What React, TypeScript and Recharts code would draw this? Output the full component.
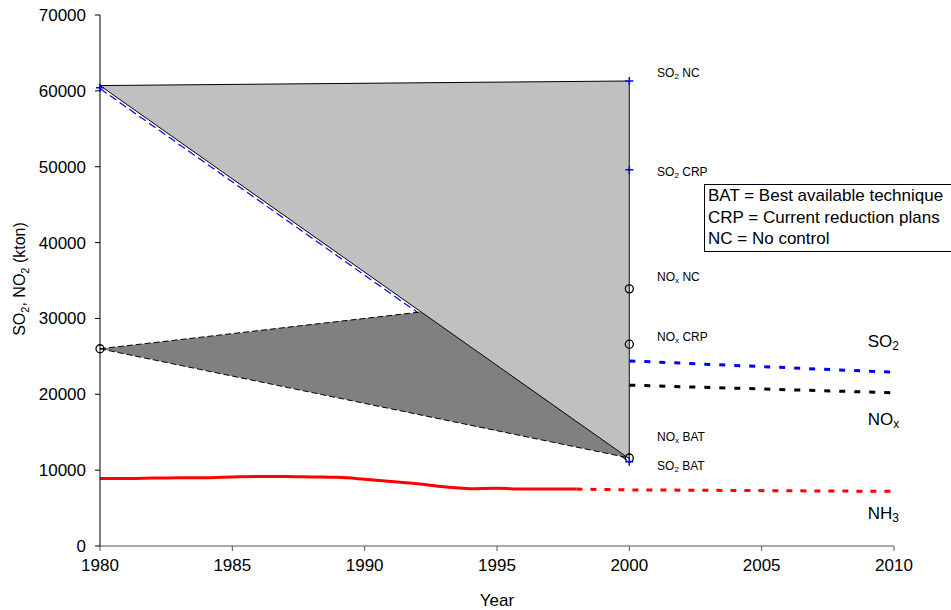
import { Area, ComposedChart, Line, Scatter, XAxis, YAxis } from "recharts"

// NH3 emissions, solid (history) and projection
const nh3Years = [1980, 1981, 1982, 1983, 1984, 1985, 1986, 1987, 1988, 1989, 1990, 1991, 1992, 1993, 1994, 1995, 1996, 1997, 1998]
const nh3Kton = [8900, 8900, 8950, 9000, 9000, 9100, 9150, 9150, 9100, 9050, 8800, 8500, 8200, 7800, 7550, 7600, 7500, 7500, 7500]
const nh3ProjYears = [1998, 2000, 2010]
const nh3ProjKton = [7500, 7400, 7200]

// dotted projections after 2000
const so2ProjYears = [2000, 2010]
const so2ProjKton = [24400, 22900]
const noxProjYears = [2000, 2010]
const noxProjKton = [21200, 20200]

// SO2 path (blue dashed)
const so2HistYears = [1980, 2000]
const so2HistKton = [60300, 11100]

// scenario envelopes
const so2RangeYears = [1980, 2000]
const so2RangeLow = [60700, 11500]
const so2RangeHigh = [60700, 61300]
const noxRangeYears = [1980, 2000]
const noxRangeLow = [26000, 11600]
const noxRangeHigh = [26000, 34000]

// markers
const so2MarkYears = [1980, 2000, 2000, 2000]
const so2MarkKton = [60400, 61300, 49600, 11100]
const noxMarkYears = [1980, 2000, 2000, 2000]
const noxMarkKton = [26000, 33900, 26600, 11600]

// scenario labels
const scenarioGas = ["SO", "SO", "NO", "NO", "NO", "SO"]
const scenarioSub = ["2", "2", "x", "x", "x", "2"]
const scenarioName = ["NC", "CRP", "NC", "CRP", "BAT", "BAT"]
const scenarioLabelYear = 2001.05
const scenarioLabelKton = [62350, 49300, 35460, 27550, 14370, 10550]

// gas labels
const gasName = ["SO", "NO", "NH"]
const gasSub = ["2", "x", "3"]
const gasLabelYear = 2009.6
const gasLabelKton = [27000, 16700, 4300]

const xTicks = [1980, 1985, 1990, 1995, 2000, 2005, 2010]
const yTicks = [0, 10000, 20000, 30000, 40000, 50000, 60000, 70000]

const FONT = "'Liberation Sans', Arial, sans-serif"

const pts = (xs: number[], ys: number[]) => xs.map((year, i) => ({ year, value: ys[i] }))
const range = (xs: number[], lo: number[], hi: number[]) => xs.map((year, i) => ({ year, value: [lo[i], hi[i]] }))

const scenarioData = scenarioName.map((name, i) => ({
  year: scenarioLabelYear,
  value: scenarioLabelKton[i],
  gas: scenarioGas[i],
  sub: scenarioSub[i],
  name,
}))
const gasData = gasName.map((gas, i) => ({ year: gasLabelYear, value: gasLabelKton[i], gas, sub: gasSub[i] }))

const Plus = (p: any) => (
  <path d={`M${p.cx - 4},${p.cy}H${p.cx + 4}M${p.cx},${p.cy - 4}V${p.cy + 4}`} stroke="#0000ff" strokeWidth={1.5} fill="none" />
)
const Ring = (p: any) => <circle cx={p.cx} cy={p.cy} r={4} stroke="#000" strokeWidth={1.3} fill="none" />

const ScenarioText = (p: any) => (
  <text x={p.cx} y={p.cy} fontFamily={FONT} fontSize={12} fill="#000" dominantBaseline="central">
    {p.payload.gas}
    <tspan fontSize={8} dy={3}>{p.payload.sub}</tspan>
    <tspan dy={-3}> {p.payload.name}</tspan>
  </text>
)
const GasText = (p: any) => (
  <text x={p.cx} y={p.cy} fontFamily={FONT} fontSize={17} fill="#000" textAnchor="middle" dominantBaseline="central">
    {p.payload.gas}
    <tspan fontSize={12} dy={5}>{p.payload.sub}</tspan>
  </text>
)

const YLabel = () => (
  <text x={0} y={0} transform="translate(25,279) rotate(-90)" textAnchor="middle" fontFamily={FONT} fontSize={16} fill="#000">
    SO<tspan fontSize={11} dy={4}>2</tspan>
    <tspan dy={-4}>, NO</tspan>
    <tspan fontSize={11} dy={4}>2</tspan>
    <tspan dy={-4}> (kton)</tspan>
  </text>
)

export default function App() {
  return (
    <div style={{ position: "absolute", left: 0, top: 0, width: 951, height: 610, background: "#fff" }}>
      <ComposedChart width={951} height={610} margin={{ top: 15, right: 57, left: 0, bottom: 0 }}>
        <XAxis
          dataKey="year"
          type="number"
          domain={[1980, 2010]}
          ticks={xTicks}
          height={64}
          stroke="#555"
          tickSize={5}
          tickMargin={8}
          tick={{ fill: "#000", fontSize: 17, fontFamily: FONT }}
          label={{ value: "Year", position: "insideBottom", offset: 4, fill: "#000", fontSize: 17, fontFamily: FONT }}
        />
        <YAxis
          dataKey="value"
          type="number"
          domain={[0, 70000]}
          ticks={yTicks}
          width={100}
          stroke="#000"
          tickSize={5}
          tickMargin={9}
          tick={{ fill: "#000", fontSize: 17, fontFamily: FONT }}
          label={{ content: YLabel }}
        />
        <Area
          data={pts(so2HistYears, so2HistKton)}
          dataKey="value"
          type="linear"
          stroke="#0000ff"
          strokeWidth={1.2}
          strokeDasharray="8 4"
          fill="none"
          isAnimationActive={false}
        />
        <Area
          data={range(noxRangeYears, noxRangeLow, noxRangeHigh)}
          dataKey="value"
          type="linear"
          stroke="#000"
          strokeWidth={1}
          strokeDasharray="6 3"
          fill="#808080"
          fillOpacity={1}
          isAnimationActive={false}
        />
        <Area
          data={range(so2RangeYears, so2RangeLow, so2RangeHigh)}
          dataKey="value"
          type="linear"
          stroke="#000"
          strokeWidth={1}
          fill="#c0c0c0"
          fillOpacity={1}
          isAnimationActive={false}
        />
        <Line
          data={pts([so2RangeYears[1], so2RangeYears[1]], [so2RangeLow[1], so2RangeHigh[1]])}
          dataKey="value"
          type="linear"
          stroke="#333"
          strokeWidth={1.2}
          dot={false}
          isAnimationActive={false}
        />
        <Line
          data={pts(nh3Years, nh3Kton)}
          dataKey="value"
          type="monotone"
          stroke="#ff0000"
          strokeWidth={3}
          dot={false}
          isAnimationActive={false}
        />
        <Line
          data={pts(nh3ProjYears, nh3ProjKton)}
          dataKey="value"
          type="linear"
          stroke="#ff0000"
          strokeWidth={3}
          strokeDasharray="6 8"
          dot={false}
          isAnimationActive={false}
        />
        <Line
          data={pts(so2ProjYears, so2ProjKton)}
          dataKey="value"
          type="linear"
          stroke="#0000ff"
          strokeWidth={3}
          strokeDasharray="6 9"
          dot={false}
          isAnimationActive={false}
        />
        <Line
          data={pts(noxProjYears, noxProjKton)}
          dataKey="value"
          type="linear"
          stroke="#000"
          strokeWidth={3}
          strokeDasharray="6 9"
          dot={false}
          isAnimationActive={false}
        />
        <Scatter data={pts(noxMarkYears, noxMarkKton)} dataKey="value" shape={Ring} isAnimationActive={false} />
        <Scatter data={pts(so2MarkYears, so2MarkKton)} dataKey="value" shape={Plus} isAnimationActive={false} />
        <Scatter data={scenarioData} dataKey="value" shape={ScenarioText} isAnimationActive={false} />
        <Scatter data={gasData} dataKey="value" shape={GasText} isAnimationActive={false} />
      </ComposedChart>
      <div
        style={{
          position: "absolute",
          left: 704,
          top: 184,
          width: 243,
          height: 66,
          border: "1px solid #000",
          paddingLeft: 3,
          fontFamily: FONT,
          fontSize: 17,
          lineHeight: "21.5px",
          color: "#000",
          background: "#fff",
          whiteSpace: "nowrap",
        }}
      >
        <div>BAT = Best available technique</div>
        <div>CRP = Current reduction plans</div>
        <div>NC = No control</div>
      </div>
    </div>
  )
}
